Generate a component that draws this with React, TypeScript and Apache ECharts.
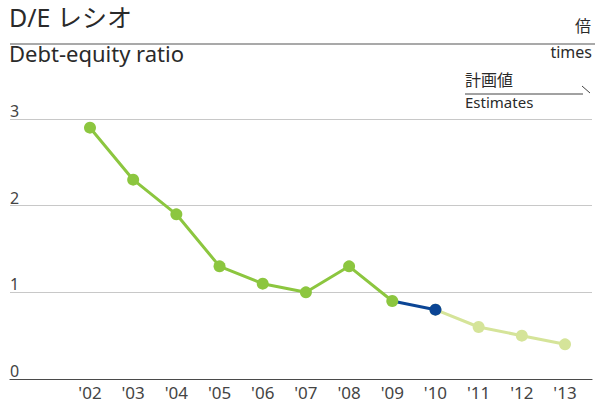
import React, { useEffect, useRef } from "react";
import * as echarts from "echarts";

const years = ["'02", "'03", "'04", "'05", "'06", "'07", "'08", "'09", "'10", "'11", "'12", "'13"];
const actualGreen = [2.9, 2.3, 1.9, 1.3, 1.1, 1.0, 1.3, 0.9, null, null, null, null];
const actualLatest = [null, null, null, null, null, null, null, 0.9, 0.8, null, null, null];
const estimates = [null, null, null, null, null, null, null, null, 0.8, 0.6, 0.5, 0.4];
const yTicks = [0, 1, 2, 3];

const FONT = "'Noto Sans', 'Noto Sans CJK JP', sans-serif";
const GREEN = "#8cc63f";
const BLUE = "#0b4595";
const LIGHT = "#d5e499";
const TEXT = "#2a2a2a";

export default function App() {
  const ref = useRef<HTMLDivElement>(null);
  useEffect(() => {
    const chart = echarts.init(ref.current!, null, { renderer: "svg" });
    chart.setOption({
      animation: false,
      textStyle: { fontFamily: FONT },
      grid: [
        { left: 10, right: 3, top: 119, bottom: 24 },
        { left: 68.4, right: 8.4, top: 119, bottom: 24 },
      ],
      xAxis: [
        {
          gridIndex: 0,
          type: "category",
          data: years,
          axisLine: { show: true, lineStyle: { color: "#4a4a4a", width: 1.2 } },
          axisTick: { show: false },
          axisLabel: { show: false },
          splitLine: { show: false },
        },
        {
          gridIndex: 1,
          type: "category",
          data: years,
          boundaryGap: true,
          axisLine: { show: false },
          axisTick: { show: false },
          axisLabel: { color: "#444", fontSize: 17, margin: 5, fontFamily: FONT },
        },
      ],
      yAxis: [
        {
          gridIndex: 0,
          type: "value",
          min: yTicks[0],
          max: yTicks[yTicks.length - 1],
          interval: 1,
          axisLine: { show: false },
          axisTick: { show: false },
          splitLine: { lineStyle: { color: "#c8c8c8", width: 1 } },
          axisLabel: {
            inside: true,
            margin: 0,
            align: "left",
            verticalAlign: "bottom",
            padding: [0, 0, 0, 0],
            color: "#444",
            fontSize: 16,
            fontFamily: FONT,
          },
        },
        {
          gridIndex: 1,
          type: "value",
          min: yTicks[0],
          max: yTicks[yTicks.length - 1],
          interval: 1,
          show: false,
        },
      ],
      series: [
        {
          type: "line",
          xAxisIndex: 1,
          yAxisIndex: 1,
          data: actualGreen,
          z: 4,
          symbol: "circle",
          symbolSize: 12,
          showSymbol: true,
          lineStyle: { color: GREEN, width: 3 },
          itemStyle: { color: GREEN },
        },
        {
          type: "line",
          xAxisIndex: 1,
          yAxisIndex: 1,
          data: estimates,
          z: 2,
          symbol: "circle",
          symbolSize: 12,
          lineStyle: { color: LIGHT, width: 3 },
          itemStyle: { color: LIGHT },
        },
        {
          type: "line",
          xAxisIndex: 1,
          yAxisIndex: 1,
          data: actualLatest.map((v, i) => (i === 7 ? { value: v, symbol: "none" } : v)),
          z: 3,
          symbol: "circle",
          symbolSize: 12,
          lineStyle: { color: BLUE, width: 3 },
          itemStyle: { color: BLUE },
        },
      ],
      graphic: [
        { type: "text", left: 9, top: 4, style: { text: "D/E レシオ", fontSize: 25, fill: TEXT, fontFamily: FONT } },
        { type: "line", shape: { x1: 10, y1: 44, x2: 595, y2: 44 }, style: { stroke: "#555", lineWidth: 1.2 } },
        { type: "text", left: 9, top: 42, style: { text: "Debt-equity ratio", fontSize: 22, fill: TEXT, fontFamily: FONT } },
        { type: "text", right: 4, top: 18, style: { text: "倍", fontSize: 16, fill: TEXT, fontFamily: FONT } },
        { type: "text", right: 3, top: 44, style: { text: "times", fontSize: 16, fill: TEXT, fontFamily: FONT } },
        { type: "text", left: 465, top: 72, style: { text: "計画値", fontSize: 16, fill: TEXT, fontFamily: FONT } },
        { type: "line", shape: { x1: 465, y1: 94, x2: 583, y2: 94 }, style: { stroke: "#444", lineWidth: 1 } },
        { type: "line", shape: { x1: 582, y1: 86, x2: 590, y2: 93 }, style: { stroke: "#444", lineWidth: 1 } },
        { type: "text", left: 465, top: 94, style: { text: "Estimates", fontSize: 15, fill: TEXT, fontFamily: FONT } },
      ],
    });
    return () => chart.dispose();
  }, []);
  return <div ref={ref} style={{ width: 595, height: 403, position: "absolute", left: 0, top: 0 }} />;
}
